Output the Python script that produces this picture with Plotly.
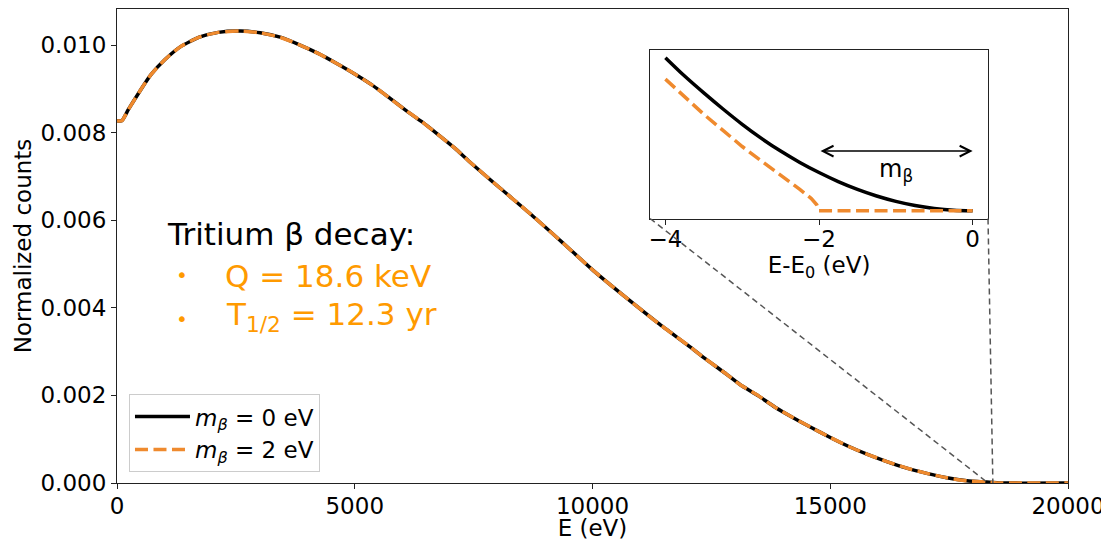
import plotly.graph_objects as go

# ---------------- data ----------------
energy_eV = [0, 100, 240, 470, 710, 1010, 1330, 1730, 2130, 2590, 3010, 3430,
             3850, 4230, 4620, 5000, 5360, 5710, 6060, 6410, 6760, 7110, 7390,
             8060, 8720, 9390, 10050, 10720, 11380, 12050, 12370, 12750, 13100,
             13490, 13840, 14220, 14610, 15000, 15380, 15770, 16190, 16610,
             17030, 17450, 17870, 18290, 18600, 20000]
counts_m0 = [0.00827, 0.00827, 0.00853, 0.00893, 0.00932, 0.00967, 0.00996,
             0.01018, 0.01029, 0.01032, 0.01028, 0.01018, 0.01000, 0.00981,
             0.00958, 0.00934, 0.00909, 0.00881, 0.00852, 0.00825, 0.00795,
             0.00764, 0.00736, 0.00673, 0.00612, 0.00547, 0.00482, 0.00422,
             0.00365, 0.00311, 0.00284, 0.00254, 0.00225, 0.00199, 0.00173,
             0.00149, 0.00126, 0.00104, 0.00084, 0.00066, 0.00049, 0.00034,
             0.00022, 0.00012, 0.00005, 0.00002, 0.0, 0.0]
counts_m2 = list(counts_m0)  # indistinguishable at this scale

inset_dE = [-4.0, -3.75, -3.5, -3.25, -3.0, -2.75, -2.5, -2.25, -2.0, -1.75,
            -1.5, -1.25, -1.0, -0.75, -0.5, -0.25, 0.0]
inset_m0 = [1.0, 0.88, 0.77, 0.665, 0.565, 0.473, 0.39, 0.316, 0.25, 0.191, 0.14,
            0.097, 0.062, 0.035, 0.016, 0.004, 0.0]
inset_dE_m2 = [-4.0, -3.75, -3.5, -3.25, -3.0, -2.75, -2.5, -2.25, -2.1, -2.03,
               -2.0, -1.5, -1.0, -0.5, 0.0]
inset_m2 = [0.86, 0.745, 0.63, 0.525, 0.42, 0.325, 0.235, 0.14, 0.08, 0.04,
            0.0, 0.0, 0.0, 0.0, 0.0]

x_ticks = [0, 5000, 10000, 15000, 20000]
y_ticks = [0.000, 0.002, 0.004, 0.006, 0.008, 0.010]
inset_ticks = [-4, -2, 0]
zoom_E_lo, zoom_E_hi = 18320, 18420

# ---------------- styling ----------------
BLACK = "#000000"
ORANGE = "#EF8A2E"
TEXT_ORANGE = "#FF9A00"
FONT = "DejaVu Sans"
FS = 23
LW = 3.5
DASH = "13px,5.5px"

Y_MAX = 0.010824
X_MAX = 20000
ins_x = [0.5605, 0.9159]
ins_y = [0.558, 0.9135]

fig = go.Figure()

fig.add_trace(go.Scatter(x=energy_eV, y=counts_m0, mode="lines",
                         line=dict(color=BLACK, width=LW, shape="spline", smoothing=0.6),
                         name="<i>m</i><sub><i>β</i></sub> = 0 eV", legendgroup="a"))
fig.add_trace(go.Scatter(x=energy_eV, y=counts_m2, mode="lines",
                         line=dict(color=ORANGE, width=LW, dash=DASH, shape="spline", smoothing=0.6),
                         name="<i>m</i><sub><i>β</i></sub> = 2 eV", legendgroup="b"))

fig.add_trace(go.Scatter(x=inset_dE, y=inset_m0, mode="lines", xaxis="x2", yaxis="y2",
                         line=dict(color=BLACK, width=LW, shape="spline", smoothing=0.8),
                         showlegend=False))
fig.add_trace(go.Scatter(x=inset_dE_m2, y=inset_m2, mode="lines", xaxis="x2", yaxis="y2",
                         line=dict(color=ORANGE, width=LW, dash=DASH),
                         showlegend=False))

axis_common = dict(showline=True, linecolor="#222", linewidth=1.2, mirror=True,
                   ticks="outside", ticklen=5, tickwidth=1.2, tickcolor="#222",
                   showgrid=False, zeroline=False,
                   tickfont=dict(family=FONT, size=FS, color=BLACK))

# the page body has an 8px margin, so the figure is sized/margined to compensate
fig.update_layout(
    width=1101, height=533,
    margin=dict(l=109, r=41, t=1, b=58, pad=0),
    paper_bgcolor="white", plot_bgcolor="white",
    font=dict(family=FONT, size=FS, color=BLACK),
    xaxis=dict(range=[0, X_MAX], tickvals=x_ticks, ticktext=[str(v) for v in x_ticks],
               title=dict(text="E (eV)", standoff=5, font=dict(family=FONT, size=FS)),
               domain=[0, 1], ticklabelstandoff=-3, **axis_common),
    yaxis=dict(range=[0, Y_MAX], tickvals=y_ticks, ticktext=[f"{v:.3f}" for v in y_ticks],
               title=dict(text="Normalized counts", standoff=2, font=dict(family=FONT, size=FS)),
               domain=[0, 1], **axis_common),
    xaxis2=dict(domain=ins_x, anchor="y2", range=[-4.2, 0.2], tickvals=inset_ticks,
                ticktext=["\u22124", "\u22122", "0"], ticklabelstandoff=-5,
                title=dict(text="E-E<sub>0</sub> (eV)", standoff=0, font=dict(family=FONT, size=FS)),
                **axis_common),
    yaxis2=dict(domain=ins_y, anchor="x2", range=[-0.05, 1.05], showticklabels=False,
                showline=True, linecolor="#222", linewidth=1.2, mirror=True,
                ticks="", showgrid=False, zeroline=False),
    legend=dict(x=0.0126, y=0.023, xanchor="left", yanchor="bottom",
                bgcolor="rgba(255,255,255,0.8)", bordercolor="#cccccc", borderwidth=1,
                font=dict(family=FONT, size=FS, color=BLACK),
                tracegroupgap=8, itemwidth=55, traceorder="normal"),
    showlegend=True,
)

# connector lines from inset corners to zoom window (main data coordinates)
corner_y = ins_y[0] * Y_MAX
fig.add_shape(type="line", xref="x", yref="y",
              x0=ins_x[0] * X_MAX, y0=corner_y, x1=zoom_E_lo, y1=0,
              line=dict(color="#555", width=1.5, dash="6px,4px"))
fig.add_shape(type="line", xref="x", yref="y",
              x0=ins_x[1] * X_MAX, y0=corner_y, x1=zoom_E_hi, y1=0,
              line=dict(color="#555", width=1.5, dash="6px,4px"))

# double-headed arrow in inset
fig.add_annotation(x=0, y=0.39, ax=-2, ay=0.39, xref="x2", yref="y2",
                   axref="x2", ayref="y2", text="", showarrow=True,
                   arrowhead=5, arrowside="end+start", arrowwidth=1.5,
                   arrowsize=1.4, arrowcolor=BLACK)
fig.add_annotation(x=-1.0, y=0.266, xref="x2", yref="y2",
                   text="m<sub>β</sub>", showarrow=False,
                   font=dict(family=FONT, size=24, color=BLACK))

# text block
fig.add_annotation(x=0.0505, y=0.526, xref="paper", yref="paper", xanchor="left",
                   yanchor="middle", text="Tritium β decay:", showarrow=False,
                   font=dict(family=FONT, size=31, color=BLACK))
fig.add_annotation(x=0.068, y=0.438, xref="paper", yref="paper", xanchor="center",
                   yanchor="middle", text="•", showarrow=False,
                   font=dict(family=FONT, size=20, color=TEXT_ORANGE))
fig.add_annotation(x=0.068, y=0.345, xref="paper", yref="paper", xanchor="center",
                   yanchor="middle", text="•", showarrow=False,
                   font=dict(family=FONT, size=20, color=TEXT_ORANGE))
fig.add_annotation(x=0.1115, y=0.436, xref="paper", yref="paper", xanchor="left",
                   yanchor="middle", text="Q = 18.6 keV", showarrow=False,
                   font=dict(family=FONT, size=31, color=TEXT_ORANGE))
fig.add_annotation(x=0.1125, y=0.352, xref="paper", yref="paper", xanchor="left",
                   yanchor="middle", text="T<sub>1/2</sub> = 12.3 yr", showarrow=False,
                   font=dict(family=FONT, size=31, color=TEXT_ORANGE))

fig.write_html("out.html")
